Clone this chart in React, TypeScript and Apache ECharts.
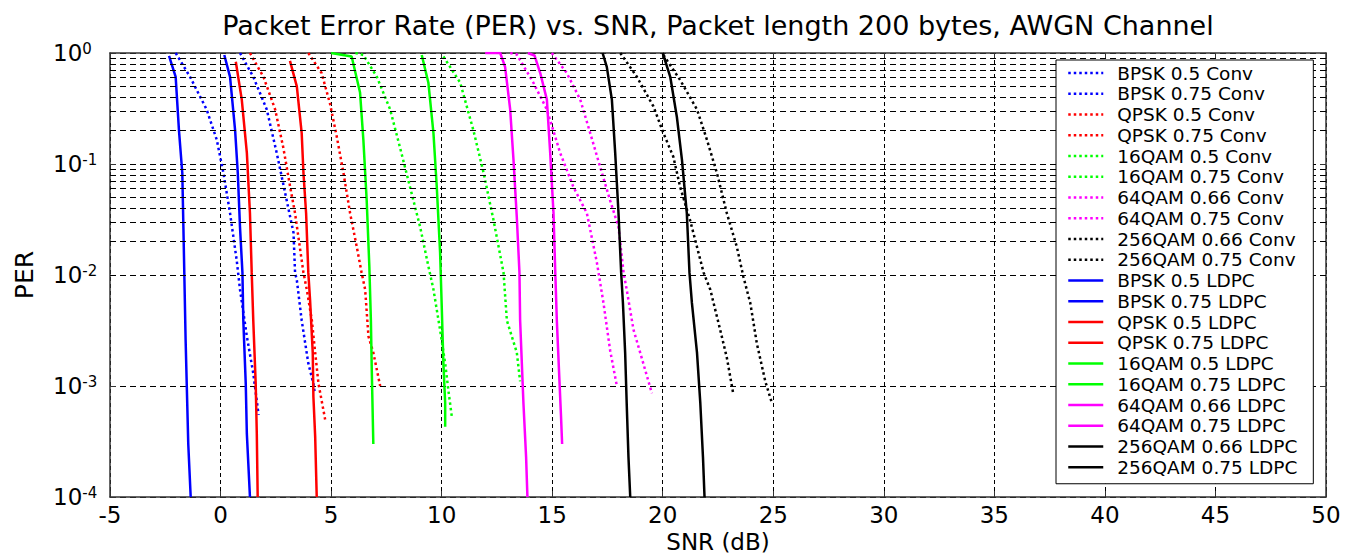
import { useEffect, useRef } from "react";
import * as echarts from "echarts";

const TITLE = "Packet Error Rate (PER) vs. SNR, Packet length 200 bytes, AWGN Channel";
const X_NAME = "SNR (dB)";
const Y_NAME = "PER";

// ---- Conv (dotted) curves ----
const BPSK_05_CONV_X = [-2.03, -1.38, -0.63, -0.17, 0.13, 0.43, 0.73, 0.88, 1.19, 1.48, 1.72];
const BPSK_05_CONV_Y = [1, 0.61, 0.31, 0.165, 0.083, 0.036, 0.0136, 0.0074, 0.0028, 0.0013, 0.00055];
const BPSK_075_CONV_X = [0.88, 1.48, 2.09, 2.54, 2.92, 3.3, 3.37, 3.45, 3.67, 3.97, 4.2, 4.25];
const BPSK_075_CONV_Y = [1, 0.61, 0.31, 0.126, 0.055, 0.024, 0.0105, 0.009, 0.0039, 0.0016, 0.00105, 0.0009];
const QPSK_05_CONV_X = [1.33, 1.94, 2.47, 2.84, 3.15, 3.37, 3.6, 3.75, 3.9, 4.13, 4.28, 4.43, 4.73];
const QPSK_05_CONV_Y = [1, 0.61, 0.31, 0.14, 0.062, 0.036, 0.017, 0.0105, 0.0074, 0.0039, 0.002, 0.00105, 0.0005];
const QPSK_075_CONV_X = [3.97, 4.57, 4.95, 5.26, 5.56, 5.86, 6.16, 6.38, 6.54, 6.69, 6.91, 7.22];
const QPSK_075_CONV_Y = [1, 0.66, 0.35, 0.175, 0.083, 0.036, 0.018, 0.0105, 0.0074, 0.0028, 0.002, 0.001];
const QAM16_05_CONV_X = [6.1, 6.46, 7.07, 7.67, 8.12, 8.57, 9.03, 9.4, 9.63, 9.93, 10.16, 10.31, 10.46];
const QAM16_05_CONV_Y = [1, 0.96, 0.61, 0.31, 0.14, 0.062, 0.027, 0.012, 0.0074, 0.0032, 0.0016, 0.0009, 0.00053];
const QAM16_075_CONV_X = [10.08, 10.84, 11.44, 11.9, 12.35, 12.8, 12.95, 13.4, 13.55];
const QAM16_075_CONV_Y = [0.93, 0.54, 0.2, 0.083, 0.031, 0.0105, 0.0039, 0.002, 0.0011];
const QAM64_066_CONV_X = [13.1, 13.4, 14.15, 14.76, 15.36, 15.96, 16.57, 17.02, 17.32, 17.62, 17.93];
const QAM64_066_CONV_Y = [1, 0.97, 0.54, 0.31, 0.126, 0.062, 0.036, 0.013, 0.0056, 0.0021, 0.00099];
const QAM64_075_CONV_X = [14.98, 15.66, 16.27, 16.72, 17.17, 17.62, 18.0, 18.23, 18.37, 18.68, 18.98, 19.51];
const QAM64_075_CONV_Y = [1, 0.66, 0.38, 0.19, 0.094, 0.047, 0.027, 0.0105, 0.0074, 0.0032, 0.002, 0.00086];
const QAM256_066_CONV_X = [18.08, 18.83, 19.58, 20.03, 20.48, 20.79, 21.24, 21.85, 22.15, 22.6, 22.9, 23.2];
const QAM256_066_CONV_Y = [1, 0.61, 0.33, 0.19, 0.116, 0.062, 0.031, 0.0105, 0.0074, 0.0032, 0.0018, 0.00083];
const QAM256_075_CONV_X = [20.03, 20.79, 21.55, 22.0, 22.45, 22.9, 23.35, 23.65, 23.96, 24.26, 24.64, 24.94];
const QAM256_075_CONV_Y = [0.96, 0.57, 0.31, 0.165, 0.083, 0.036, 0.018, 0.0096, 0.0056, 0.0024, 0.0011, 0.0007];

// ---- LDPC (solid) curves ----
const BPSK_05_LDPC_X = [-2.33, -2.03, -1.88, -1.73, -1.68, -1.58, -1.46, -1.35];
const BPSK_05_LDPC_Y = [0.94, 0.61, 0.2, 0.083, 0.027, 0.0026, 0.0003, 0.0001];
const BPSK_075_LDPC_X = [0.17, 0.43, 0.66, 0.78, 0.88, 0.99, 1.03, 1.14, 1.19, 1.33];
const BPSK_075_LDPC_Y = [0.96, 0.61, 0.2, 0.083, 0.027, 0.0105, 0.0039, 0.00105, 0.00037, 0.0001];
const QPSK_05_LDPC_X = [0.69, 0.96, 1.19, 1.33, 1.41, 1.48, 1.59, 1.64, 1.68];
const QPSK_05_LDPC_Y = [0.835, 0.38, 0.126, 0.036, 0.0105, 0.0039, 0.00105, 0.00037, 0.0001];
const QPSK_075_LDPC_X = [3.14, 3.45, 3.67, 3.75, 3.87, 3.97, 4.05, 4.17, 4.2, 4.28, 4.35];
const QPSK_075_LDPC_Y = [0.85, 0.5, 0.19, 0.083, 0.036, 0.0105, 0.0059, 0.002, 0.0008, 0.00035, 0.0001];
const QAM16_05_LDPC_X = [5.0, 5.93, 6.31, 6.46, 6.61, 6.73, 6.8, 6.84, 6.91];
const QAM16_05_LDPC_Y = [1, 0.93, 0.44, 0.165, 0.047, 0.012, 0.0039, 0.0014, 0.0003];
const QAM16_075_LDPC_X = [9.1, 9.4, 9.63, 9.78, 9.93, 10.0, 10.08, 10.16, 10.16];
const QAM16_075_LDPC_Y = [0.96, 0.54, 0.19, 0.062, 0.016, 0.0056, 0.0016, 0.0007, 0.00043];
const QAM64_066_LDPC_X = [11.97, 12.65, 12.87, 13.1, 13.25, 13.4, 13.52, 13.55, 13.7, 13.82, 13.88];
const QAM64_066_LDPC_Y = [1, 1, 0.75, 0.31, 0.109, 0.033, 0.0105, 0.0039, 0.0007, 0.00023, 0.0001];
const QAM64_075_LDPC_X = [13.9, 14.2, 14.46, 14.76, 14.91, 15.06, 15.14, 15.21, 15.33, 15.4, 15.45];
const QAM64_075_LDPC_Y = [1, 0.95, 0.66, 0.38, 0.126, 0.036, 0.0105, 0.0039, 0.0011, 0.00053, 0.0003];
const QAM256_066_LDPC_X = [17.28, 17.47, 17.7, 17.85, 18.0, 18.12, 18.2, 18.3, 18.37, 18.45, 18.53];
const QAM256_066_LDPC_Y = [1, 0.75, 0.38, 0.126, 0.036, 0.0105, 0.0056, 0.002, 0.0007, 0.00023, 0.0001];
const QAM256_075_LDPC_X = [20.0, 20.34, 20.64, 20.87, 21.09, 21.21, 21.32, 21.55, 21.7, 21.82, 21.89];
const QAM256_075_LDPC_Y = [1, 0.61, 0.265, 0.109, 0.036, 0.0105, 0.0056, 0.002, 0.0007, 0.00023, 0.0001];

const SERIES_NAMES = [
  "BPSK 0.5 Conv", "BPSK 0.75 Conv", "QPSK 0.5 Conv", "QPSK 0.75 Conv",
  "16QAM 0.5 Conv", "16QAM 0.75 Conv", "64QAM 0.66 Conv", "64QAM 0.75 Conv",
  "256QAM 0.66 Conv", "256QAM 0.75 Conv",
  "BPSK 0.5 LDPC", "BPSK 0.75 LDPC", "QPSK 0.5 LDPC", "QPSK 0.75 LDPC",
  "16QAM 0.5 LDPC", "16QAM 0.75 LDPC", "64QAM 0.66 LDPC", "64QAM 0.75 LDPC",
  "256QAM 0.66 LDPC", "256QAM 0.75 LDPC",
];
const SERIES_X = [
  BPSK_05_CONV_X, BPSK_075_CONV_X, QPSK_05_CONV_X, QPSK_075_CONV_X,
  QAM16_05_CONV_X, QAM16_075_CONV_X, QAM64_066_CONV_X, QAM64_075_CONV_X,
  QAM256_066_CONV_X, QAM256_075_CONV_X,
  BPSK_05_LDPC_X, BPSK_075_LDPC_X, QPSK_05_LDPC_X, QPSK_075_LDPC_X,
  QAM16_05_LDPC_X, QAM16_075_LDPC_X, QAM64_066_LDPC_X, QAM64_075_LDPC_X,
  QAM256_066_LDPC_X, QAM256_075_LDPC_X,
];
const SERIES_Y = [
  BPSK_05_CONV_Y, BPSK_075_CONV_Y, QPSK_05_CONV_Y, QPSK_075_CONV_Y,
  QAM16_05_CONV_Y, QAM16_075_CONV_Y, QAM64_066_CONV_Y, QAM64_075_CONV_Y,
  QAM256_066_CONV_Y, QAM256_075_CONV_Y,
  BPSK_05_LDPC_Y, BPSK_075_LDPC_Y, QPSK_05_LDPC_Y, QPSK_075_LDPC_Y,
  QAM16_05_LDPC_Y, QAM16_075_LDPC_Y, QAM64_066_LDPC_Y, QAM64_075_LDPC_Y,
  QAM256_066_LDPC_Y, QAM256_075_LDPC_Y,
];
const MOD_COLORS = ["#0000ff", "#0000ff", "#ff0000", "#ff0000", "#00ff00", "#00ff00", "#ff00ff", "#ff00ff", "#000000", "#000000"];
const SERIES_COLORS = [...MOD_COLORS, ...MOD_COLORS];
const SERIES_DOTTED = SERIES_NAMES.map((n) => n.endsWith("Conv"));

const X_MIN = -5;
const X_MAX = 50;
const X_STEP = 5;
const Y_MIN = 1e-4;
const Y_MAX = 1;
const MINOR_Y = [2e-4, 3e-4, 4e-4, 5e-4, 6e-4, 7e-4, 8e-4, 9e-4,
  2e-3, 3e-3, 4e-3, 5e-3, 6e-3, 7e-3, 8e-3, 9e-3,
  2e-2, 3e-2, 4e-2, 5e-2, 6e-2, 7e-2, 8e-2, 9e-2,
  0.2, 0.3, 0.4, 0.5, 0.6, 0.7, 0.8, 0.9];

const FONT = '"DejaVu Sans", Verdana, sans-serif';
const AXIS_COLOR = "#333";

export default function App() {
  const ref = useRef<HTMLDivElement>(null);
  useEffect(() => {
    if (!ref.current) return;
    const chart = echarts.init(ref.current, null, { renderer: "svg" });

    const curveSeries = SERIES_NAMES.map((name, i) => ({
      name,
      type: "line",
      xAxisIndex: 0,
      yAxisIndex: 0,
      data: SERIES_X[i].map((x, j) => [x, SERIES_Y[i][j]]),
      symbol: "none",
      showSymbol: false,
      silent: true,
      z: 3,
      lineStyle: {
        color: SERIES_COLORS[i],
        width: 2.5,
        type: SERIES_DOTTED[i] ? [2.5, 3] : "solid",
      },
      itemStyle: { color: SERIES_COLORS[i] },
      emphasis: { disabled: true },
    }));

    const minorGrid = {
      name: "_minor",
      type: "line",
      data: [[X_MIN, Y_MAX]],
      symbol: "none",
      showSymbol: false,
      silent: true,
      z: 1,
      lineStyle: { width: 0 },
      markLine: {
        silent: true,
        symbol: ["none", "none"],
        label: { show: false },
        lineStyle: { color: "#000", type: [6, 4], width: 1 },
        emphasis: { disabled: true },
        data: MINOR_Y.map((v) => ({ yAxis: v })),
      },
    };

    const commonTick = { show: true, inside: true, length: 6, lineStyle: { color: AXIS_COLOR, width: 1 } };
    const commonLine = { show: true, onZero: false, lineStyle: { color: AXIS_COLOR, width: 1.5 } };

    chart.setOption({
      animation: false,
      backgroundColor: "#ffffff",
      textStyle: { fontFamily: FONT },
      graphic: [
        {
          type: "text",
          x: 718,
          y: 25,
          silent: true,
          style: {
            text: TITLE,
            fill: "#000",
            font: `27px ${FONT}`,
            align: "center",
            verticalAlign: "middle",
          },
        },
      ],
      grid: { left: 110, right: 31, top: 53, bottom: 57, containLabel: false, outerBoundsMode: "none" },
      xAxis: [
        {
          type: "value",
          position: "bottom",
          min: X_MIN,
          max: X_MAX,
          interval: X_STEP,
          name: X_NAME,
          nameLocation: "middle",
          nameGap: 29,
          nameTextStyle: { fontSize: 23, lineHeight: 23, fontFamily: FONT, color: "#000" },
          axisLine: commonLine,
          axisTick: commonTick,
          axisLabel: { fontSize: 23, fontFamily: FONT, color: "#000", margin: 6 },
          splitLine: { show: true, lineStyle: { color: "#000", type: [4, 3], width: 1 } },
        },
        {
          type: "value",
          position: "top",
          min: X_MIN,
          max: X_MAX,
          interval: X_STEP,
          axisLine: commonLine,
          axisTick: commonTick,
          axisLabel: { show: false },
          splitLine: { show: false },
        },
      ],
      yAxis: [
        {
          type: "log",
          logBase: 10,
          position: "left",
          min: Y_MIN,
          max: Y_MAX,
          name: Y_NAME,
          nameLocation: "middle",
          nameGap: 73,
          nameTextStyle: { fontSize: 25, fontFamily: FONT, color: "#000" },
          axisLine: commonLine,
          axisTick: commonTick,
          axisLabel: {
            align: "left",
            margin: 57,
            formatter: (v: number) => `{b|10}{e|${Math.round(Math.log10(v))}}`,
            rich: {
              b: { fontSize: 23, fontFamily: FONT, color: "#000", lineHeight: 23, padding: [8, 0, 8, 0] },
              e: { fontSize: 15, fontFamily: FONT, color: "#000", lineHeight: 15, verticalAlign: "top" },
            },
          },
          splitLine: { show: true, lineStyle: { color: "#000", type: [6, 4], width: 1 } },
        },
        {
          type: "log",
          logBase: 10,
          position: "right",
          min: Y_MIN,
          max: Y_MAX,
          axisLine: commonLine,
          axisTick: commonTick,
          axisLabel: { show: false },
          splitLine: { show: false },
        },
      ],
      legend: {
        orient: "vertical",
        left: 1056,
        top: 60,
        padding: [3.5, 16, 7, 11],
        itemGap: 1.75,
        itemWidth: 35,
        itemHeight: 14,
        backgroundColor: "#ffffff",
        borderColor: "#000",
        borderWidth: 1,
        borderRadius: 0,
        selectedMode: false,
        itemStyle: { opacity: 0 },
        lineStyle: { width: 2.5 },
        textStyle: { fontSize: 18.5, fontFamily: FONT, color: "#000", padding: [0, 0, 0, 9] },
        data: SERIES_NAMES,
        z: 10,
      },
      series: [minorGrid, ...curveSeries],
    });

    return () => chart.dispose();
  }, []);

  return (
    <div
      ref={ref}
      style={{ position: "fixed", left: 0, top: 0, width: 1357, height: 554, background: "#fff" }}
    />
  );
}
